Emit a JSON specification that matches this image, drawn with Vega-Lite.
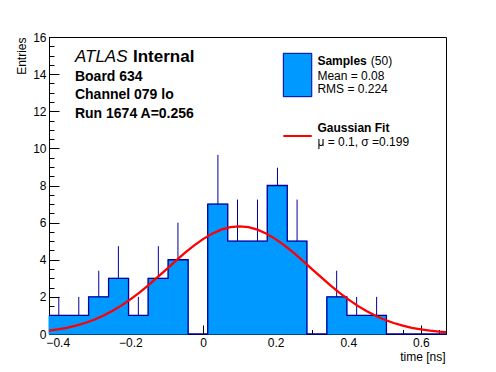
{
  "$schema": "https://vega.github.io/schema/vega-lite/v6.json",
  "width": 397,
  "height": 297,
  "autosize": {"type": "none"},
  "padding": {"left": 49, "top": 37, "right": 50, "bottom": 38},
  "background": "white",
  "config": {
    "view": {"stroke": "black", "strokeWidth": 1},
    "font": "Liberation Sans",
    "axis": {
      "grid": false,
      "domainColor": "black",
      "domainWidth": 1,
      "tickColor": "black",
      "tickWidth": 1,
      "tickCount": 100,
      "labelColor": "black",
      "labelFont": "Liberation Sans",
      "labelFontSize": 12,
      "labelOverlap": false,
      "labelFlush": false,
      "titleColor": "black",
      "titleFont": "Liberation Sans",
      "titleFontWeight": "normal",
      "titleFontSize": 12,
      "zindex": 1
    }
  },
  "datasets": {
    "bins": [
      {"lo": -0.424, "hi": -0.369, "mid": -0.397, "n": 1, "top": 2},
      {"lo": -0.369, "hi": -0.315, "mid": -0.342, "n": 1, "top": 2},
      {"lo": -0.315, "hi": -0.260, "mid": -0.287, "n": 2, "top": 3.41},
      {"lo": -0.260, "hi": -0.205, "mid": -0.233, "n": 3, "top": 4.73},
      {"lo": -0.205, "hi": -0.151, "mid": -0.178, "n": 1, "top": 2},
      {"lo": -0.151, "hi": -0.096, "mid": -0.123, "n": 3, "top": 4.73},
      {"lo": -0.096, "hi": -0.041, "mid": -0.069, "n": 4, "top": 6},
      {"lo": -0.041, "hi": 0.013, "mid": -0.014, "n": 0, "top": null},
      {"lo": 0.013, "hi": 0.068, "mid": 0.041, "n": 7, "top": 9.65},
      {"lo": 0.068, "hi": 0.123, "mid": 0.095, "n": 5, "top": 7.24},
      {"lo": 0.123, "hi": 0.177, "mid": 0.150, "n": 5, "top": 7.24},
      {"lo": 0.177, "hi": 0.232, "mid": 0.205, "n": 8, "top": 8.96},
      {"lo": 0.232, "hi": 0.286, "mid": 0.259, "n": 5, "top": 7.24},
      {"lo": 0.286, "hi": 0.341, "mid": 0.314, "n": 0, "top": null},
      {"lo": 0.341, "hi": 0.396, "mid": 0.368, "n": 2, "top": 3.41},
      {"lo": 0.396, "hi": 0.450, "mid": 0.423, "n": 1, "top": 2},
      {"lo": 0.450, "hi": 0.505, "mid": 0.478, "n": 1, "top": 2},
      {"lo": 0.505, "hi": 0.560, "mid": 0.532, "n": 0, "top": null},
      {"lo": 0.560, "hi": 0.614, "mid": 0.587, "n": 0, "top": null},
      {"lo": 0.614, "hi": 0.669, "mid": 0.642, "n": 0, "top": null}
    ],
    "outline": [
      {"edge": -0.424, "n": 1},
      {"edge": -0.369, "n": 1},
      {"edge": -0.315, "n": 2},
      {"edge": -0.260, "n": 3},
      {"edge": -0.205, "n": 1},
      {"edge": -0.151, "n": 3},
      {"edge": -0.096, "n": 4},
      {"edge": -0.041, "n": 0},
      {"edge": 0.013, "n": 7},
      {"edge": 0.068, "n": 5},
      {"edge": 0.123, "n": 5},
      {"edge": 0.177, "n": 8},
      {"edge": 0.232, "n": 5},
      {"edge": 0.286, "n": 0},
      {"edge": 0.341, "n": 2},
      {"edge": 0.396, "n": 1},
      {"edge": 0.450, "n": 1},
      {"edge": 0.505, "n": 0},
      {"edge": 0.669, "n": 0}
    ],
    "fit": [
      {"t": -0.424, "g": 0.18},
      {"t": -0.4, "g": 0.247},
      {"t": -0.375, "g": 0.336},
      {"t": -0.35, "g": 0.450},
      {"t": -0.325, "g": 0.593},
      {"t": -0.3, "g": 0.769},
      {"t": -0.275, "g": 0.982},
      {"t": -0.25, "g": 1.235},
      {"t": -0.225, "g": 1.529},
      {"t": -0.2, "g": 1.862},
      {"t": -0.175, "g": 2.232},
      {"t": -0.15, "g": 2.635},
      {"t": -0.125, "g": 3.061},
      {"t": -0.1, "g": 3.500},
      {"t": -0.075, "g": 3.940},
      {"t": -0.05, "g": 4.366},
      {"t": -0.025, "g": 4.762},
      {"t": 0, "g": 5.112},
      {"t": 0.025, "g": 5.402},
      {"t": 0.05, "g": 5.620},
      {"t": 0.075, "g": 5.754},
      {"t": 0.1, "g": 5.8},
      {"t": 0.125, "g": 5.754},
      {"t": 0.15, "g": 5.620},
      {"t": 0.175, "g": 5.402},
      {"t": 0.2, "g": 5.112},
      {"t": 0.225, "g": 4.762},
      {"t": 0.25, "g": 4.366},
      {"t": 0.275, "g": 3.940},
      {"t": 0.3, "g": 3.500},
      {"t": 0.325, "g": 3.061},
      {"t": 0.35, "g": 2.635},
      {"t": 0.375, "g": 2.232},
      {"t": 0.4, "g": 1.862},
      {"t": 0.425, "g": 1.529},
      {"t": 0.45, "g": 1.235},
      {"t": 0.475, "g": 0.982},
      {"t": 0.5, "g": 0.769},
      {"t": 0.525, "g": 0.593},
      {"t": 0.55, "g": 0.450},
      {"t": 0.575, "g": 0.336},
      {"t": 0.6, "g": 0.247},
      {"t": 0.625, "g": 0.179},
      {"t": 0.65, "g": 0.127},
      {"t": 0.669, "g": 0.097}
    ],
    "legBox": [{"x1": 0.2211, "x2": 0.2994, "y1": 12.784, "y2": 15.122}],
    "legLine": [{"x1": 0.2211, "x2": 0.2994, "y": 10.667}],
    "atlas": [{"x": -0.3526, "y": 14.637, "text": "ATLAS"}],
    "internal": [{"x": -0.1928, "y": 14.637, "text": "Internal"}],
    "info": [
      {"x": -0.3526, "y": 13.63, "text": "Board 634"},
      {"x": -0.3526, "y": 12.644, "text": "Channel 079 lo"},
      {"x": -0.3526, "y": 11.62, "text": "Run 1674 A=0.256"}
    ],
    "legHead": [
      {"x": 0.3149, "y": 14.49, "text": "Samples"},
      {"x": 0.3149, "y": 10.866, "text": "Gaussian Fit"}
    ],
    "legBody": [
      {"x": 0.4620, "y": 14.49, "text": "(50)"},
      {"x": 0.3149, "y": 13.684, "text": "Mean = 0.08"},
      {"x": 0.3149, "y": 12.967, "text": "RMS = 0.224"},
      {"x": 0.3149, "y": 10.144, "text": "μ = 0.1, σ =0.199"}
    ]
  },
  "resolve": {"axis": {"x": "independent", "y": "independent"}},
  "layer": [
    {
      "layer": [
        {
          "data": {"name": "bins"},
          "transform": [{"filter": "datum.n > 0"}],
          "mark": {"type": "rect", "fill": "#0099ff", "stroke": "#0099ff", "strokeWidth": 1},
          "encoding": {
            "x": {
              "field": "lo", "type": "quantitative",
              "scale": {"domain": [-0.424, 0.669], "nice": false, "zero": false},
              "axis": {
                "title": "time [ns]",
                "orient": "bottom",
                "values": [-0.4, -0.2, 0, 0.2, 0.4, 0.6],
                "tickCount": 100,
                "format": ".1~f",
                "tickSize": -9,
                "labelPadding": 12,
                "labelOverlap": false,
                "titleX": 396,
                "titleY": 26,
                "titleAlign": "right",
                "titleBaseline": "alphabetic"
              }
            },
            "x2": {"field": "hi"},
            "y": {
              "field": "n", "type": "quantitative",
              "scale": {"domain": [0, 16], "nice": false, "zero": true},
              "axis": {
                "title": "Entries",
                "orient": "left",
                "values": [0, 2, 4, 6, 8, 10, 12, 14, 16],
                "tickCount": 100,
                "format": "d",
                "tickSize": -10,
                "labelPadding": 13,
                "labelOverlap": false,
                "titleX": -24,
                "titleY": 0,
                "titleAngle": -90,
                "titleAlign": "right",
                "titleBaseline": "alphabetic"
              }
            },
            "y2": {"datum": 0}
          }
        },
        {
          "data": {"name": "bins"},
          "transform": [{"filter": "datum.top != null"}],
          "mark": {"type": "rule", "color": "#000099", "strokeWidth": 1},
          "encoding": {
            "x": {"field": "mid", "type": "quantitative"},
            "y": {"field": "n", "type": "quantitative"},
            "y2": {"field": "top"}
          }
        },
        {
          "data": {"name": "outline"},
          "mark": {"type": "line", "interpolate": "step-after", "color": "#000099", "strokeWidth": 1.3},
          "encoding": {
            "x": {"field": "edge", "type": "quantitative"},
            "y": {"field": "n", "type": "quantitative"}
          }
        },
        {
          "data": {"name": "fit"},
          "mark": {"type": "line", "color": "#ff0000", "strokeWidth": 2.3},
          "encoding": {
            "x": {"field": "t", "type": "quantitative"},
            "y": {"field": "g", "type": "quantitative"}
          }
        },
        {
          "data": {"name": "legBox"},
          "mark": {"type": "rect", "fill": "#0099ff", "stroke": "#000099", "strokeWidth": 1},
          "encoding": {
            "x": {"field": "x1", "type": "quantitative"},
            "x2": {"field": "x2"},
            "y": {"field": "y1", "type": "quantitative"},
            "y2": {"field": "y2"}
          }
        },
        {
          "data": {"name": "legLine"},
          "mark": {"type": "rule", "color": "#ff0000", "strokeWidth": 2},
          "encoding": {
            "x": {"field": "x1", "type": "quantitative"},
            "x2": {"field": "x2"},
            "y": {"field": "y", "type": "quantitative"}
          }
        },
        {
          "data": {"name": "atlas"},
          "mark": {"type": "text", "align": "left", "baseline": "alphabetic", "fontSize": 17, "fontStyle": "italic", "fontWeight": "normal", "color": "black"},
          "encoding": {
            "x": {"field": "x", "type": "quantitative"},
            "y": {"field": "y", "type": "quantitative"},
            "text": {"field": "text"}
          }
        },
        {
          "data": {"name": "internal"},
          "mark": {"type": "text", "align": "left", "baseline": "alphabetic", "fontSize": 17, "fontWeight": "bold", "color": "black"},
          "encoding": {
            "x": {"field": "x", "type": "quantitative"},
            "y": {"field": "y", "type": "quantitative"},
            "text": {"field": "text"}
          }
        },
        {
          "data": {"name": "info"},
          "mark": {"type": "text", "align": "left", "baseline": "alphabetic", "fontSize": 14, "fontWeight": "bold", "color": "black"},
          "encoding": {
            "x": {"field": "x", "type": "quantitative"},
            "y": {"field": "y", "type": "quantitative"},
            "text": {"field": "text"}
          }
        },
        {
          "data": {"name": "legHead"},
          "mark": {"type": "text", "align": "left", "baseline": "alphabetic", "fontSize": 12, "fontWeight": "bold", "color": "black"},
          "encoding": {
            "x": {"field": "x", "type": "quantitative"},
            "y": {"field": "y", "type": "quantitative"},
            "text": {"field": "text"}
          }
        },
        {
          "data": {"name": "legBody"},
          "mark": {"type": "text", "align": "left", "baseline": "alphabetic", "fontSize": 12, "fontWeight": "normal", "color": "black"},
          "encoding": {
            "x": {"field": "x", "type": "quantitative"},
            "y": {"field": "y", "type": "quantitative"},
            "text": {"field": "text"}
          }
        }
      ]
    },
    {
      "data": {"name": "bins"},
      "mark": {"type": "rule", "opacity": 0},
      "encoding": {
        "x": {
          "field": "mid", "type": "quantitative",
          "axis": {
            "orient": "bottom",
            "title": null,
            "labels": false,
            "domain": false,
            "tickSize": -4.5,
            "tickCount": 100,
            "values": [-0.4, -0.35, -0.3, -0.25, -0.2, -0.15, -0.1, -0.05, 0, 0.05, 0.1, 0.15, 0.2, 0.25, 0.3, 0.35, 0.4, 0.45, 0.5, 0.55, 0.6, 0.65]
          }
        },
        "y": {
          "field": "n", "type": "quantitative",
          "axis": {
            "orient": "left",
            "title": null,
            "labels": false,
            "domain": false,
            "tickSize": -5,
            "tickCount": 100,
            "values": [0, 0.5, 1, 1.5, 2, 2.5, 3, 3.5, 4, 4.5, 5, 5.5, 6, 6.5, 7, 7.5, 8, 8.5, 9, 9.5, 10, 10.5, 11, 11.5, 12, 12.5, 13, 13.5, 14, 14.5, 15, 15.5, 16]
          }
        }
      }
    }
  ]
}
